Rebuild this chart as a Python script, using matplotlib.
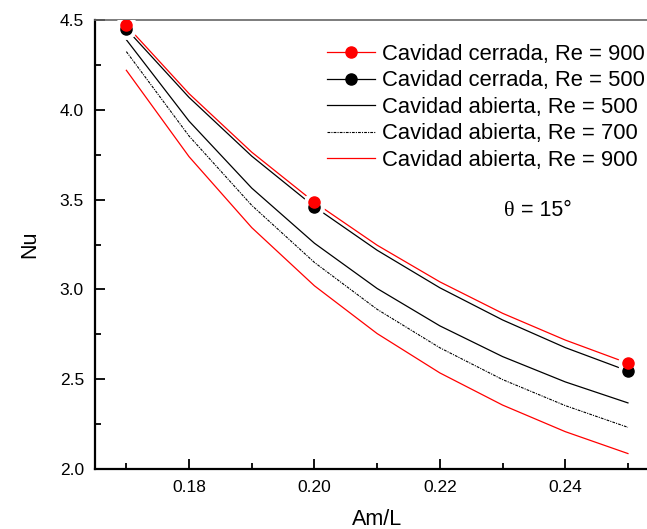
import matplotlib

matplotlib.use("Agg")
import matplotlib.pyplot as plt

plt.rcParams["font.family"] = ["Liberation Sans", "DejaVu Sans"]

# closed cavity: measured points
am_points = [0.17, 0.20, 0.25]
nu_closed_900 = [4.47, 3.485, 2.589]
nu_closed_500 = [4.45, 3.46, 2.546]

# curves at each 0.01 step
am_curve = [0.17, 0.18, 0.19, 0.20, 0.21, 0.22, 0.23, 0.24, 0.25]
curve_closed_900 = [4.47, 4.09, 3.764, 3.485, 3.246, 3.042, 2.867, 2.718, 2.589]
curve_closed_500 = [4.45, 4.069, 3.742, 3.46, 3.218, 3.009, 2.83, 2.676, 2.546]
nu_open_500 = [4.39, 3.937, 3.564, 3.257, 3.005, 2.797, 2.626, 2.485, 2.368]
nu_open_700 = [4.324, 3.854, 3.468, 3.150, 2.889, 2.675, 2.498, 2.353, 2.232]
nu_open_900 = [4.22, 3.739, 3.344, 3.020, 2.754, 2.535, 2.356, 2.208, 2.086]

labels = [
    "Cavidad cerrada, Re = 900",
    "Cavidad cerrada, Re = 500",
    "Cavidad abierta, Re = 500",
    "Cavidad abierta, Re = 700",
    "Cavidad abierta, Re = 900",
]

W, H = 647, 529
fig = plt.figure(figsize=(W / 100, H / 100), dpi=100)
ax = fig.add_axes([95 / W, 60 / H, 564.3 / W, 449 / H])

lw = 0.9
ax.plot(am_curve, curve_closed_900, color="red", lw=lw)
ax.plot(am_curve, curve_closed_500, color="black", lw=lw)
l3, = ax.plot(am_curve, nu_open_500, color="black", lw=lw)
l4, = ax.plot(am_curve, nu_open_700, color="black", lw=0.8, ls=(0, (2.5, 1, 1, 1)))
l5, = ax.plot(am_curve, nu_open_900, color="red", lw=lw)

# white halo under markers gives the gap in the connecting lines
ax.plot(am_points, nu_closed_500, "o", color="white", ms=14, zorder=3)
ax.plot(am_points, nu_closed_900, "o", color="white", ms=14, zorder=3)
ax.plot(am_points, nu_closed_500, "o", color="black", ms=8, zorder=4)
ax.plot(am_points, nu_closed_900, "o", color="red", ms=8, zorder=5)

h1, = ax.plot([], [], "-o", color="red", lw=lw, ms=8)
h2, = ax.plot([], [], "-o", color="black", lw=lw, ms=8)

ax.set_xlim(0.165, 0.255)
ax.set_ylim(2.0, 4.5)
ax.set_xticks([0.18, 0.20, 0.22, 0.24])
ax.set_xticks([0.17, 0.19, 0.21, 0.23, 0.25], minor=True)
ax.set_yticks([2.0, 2.5, 3.0, 3.5, 4.0, 4.5])
ax.set_yticks([2.25, 2.75, 3.25, 3.75, 4.25], minor=True)
ax.set_xticklabels(["0.18", "0.20", "0.22", "0.24"])
ax.set_yticklabels(["2.0", "2.5", "3.0", "3.5", "4.0", "4.5"])
ax.tick_params(which="both", direction="in", labelsize=12.5, width=1.3, pad=8)
ax.tick_params(which="major", length=7)
ax.tick_params(which="minor", length=4)

for side in ["left", "bottom"]:
    ax.spines[side].set_linewidth(1.6)
ax.spines["top"].set_color("#666666")
ax.spines["top"].set_linewidth(1.2)
ax.spines["right"].set_visible(False)

ax.set_xlabel("Am/L", fontsize=15.5, va="center")
ax.set_ylabel("Nu", fontsize=15.5, va="center")
ax.xaxis.set_label_coords(0.5, -0.112)
ax.yaxis.set_label_coords(-0.115, 0.5)

fig.legend(
    [h1, h2, l3, l4, l5], labels,
    loc="upper left", bbox_to_anchor=(327 / W, 1 - 44 / H),
    frameon=False, fontsize=15.8, handlelength=2.2, handletextpad=0.3,
    labelspacing=0.25, borderpad=0, borderaxespad=0,
)

theta = fig.text(504 / W, 1 - 211 / H, "θ", fontsize=16, va="center",
                 family=["Liberation Serif", "DejaVu Serif"])
ax.annotate(" = 15°", xy=(1, 0), xycoords=theta, va="bottom", fontsize=15.5)

fig.savefig("out.png", dpi=100)
